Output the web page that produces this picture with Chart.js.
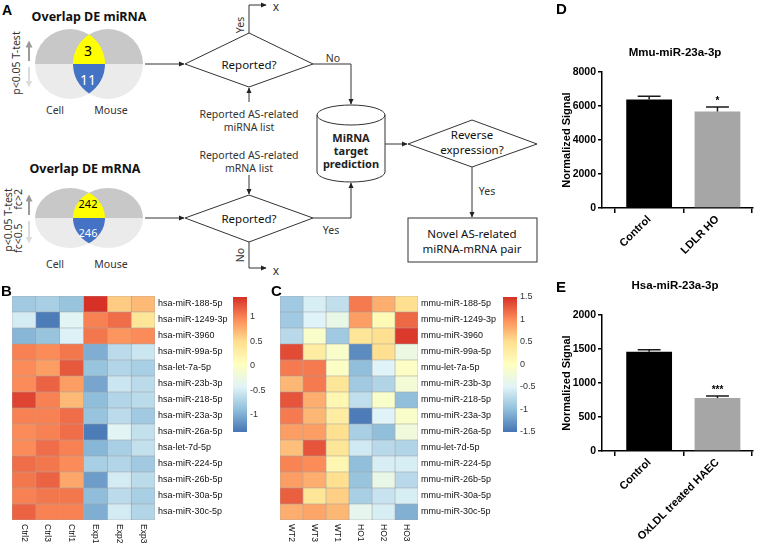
<!DOCTYPE html>
<html>
<head>
<meta charset="utf-8">
<script src="https://cdn.jsdelivr.net/npm/chart.js@4.4.1/dist/chart.umd.min.js"></script>
<style>
  body { margin: 0; background: #fff; }
  #page { position: relative; width: 766px; height: 545px; overflow: hidden; font-family: "Liberation Sans", Arial, sans-serif; }
  .abs { position: absolute; }
  .letter { position: absolute; font-weight: bold; font-size: 15px; line-height: 15px; }
  .title { position: absolute; width: 200px; text-align: center; font-weight: bold; font-size: 11.5px; line-height: 14px; }
  svg text { font-family: "Noto Sans", sans-serif; }
</style>
</head>
<body>
<div id="page">

<svg class="abs" style="left:0;top:0" width="545" height="280">
  <defs>
    <marker id="ah" viewBox="0 0 10 10" refX="9" refY="5" markerWidth="6" markerHeight="6" orient="auto">
      <path d="M0,0.5 L10,5 L0,9.5 z" fill="#222"/>
    </marker>
    <marker id="ahd" viewBox="0 0 10 10" refX="5" refY="5" markerWidth="3.5" markerHeight="3.5" orient="auto">
      <path d="M0,0 L10,5 L0,10 z" fill="#9a9a9a"/>
    </marker>
    <marker id="ahl" viewBox="0 0 10 10" refX="5" refY="5" markerWidth="3.5" markerHeight="3.5" orient="auto">
      <path d="M0,0 L10,5 L0,10 z" fill="#dcdcdc"/>
    </marker>
    <clipPath id="t1"><rect x="32" y="20" width="120" height="44"/></clipPath>
    <clipPath id="b1"><rect x="32" y="64" width="120" height="44"/></clipPath>
    <clipPath id="t2"><rect x="32" y="180" width="120" height="38"/></clipPath>
    <clipPath id="b2"><rect x="32" y="218" width="120" height="38"/></clipPath>
  </defs>

  <!-- Venn: miRNA -->
  <text x="89" y="16" font-size="12.5" font-weight="bold" text-anchor="middle" dominant-baseline="central" fill="#111">Overlap DE miRNA</text>
  <g clip-path="url(#t1)">
    <circle cx="70" cy="64" r="35" fill="#c8c8c8"/>
    <circle cx="108" cy="64" r="35" fill="#c8c8c8"/>
    <path d="M89,34.6 A35,35 0 0 1 89,93.4 A35,35 0 0 1 89,34.6 Z" fill="#ffff00"/>
  </g>
  <g clip-path="url(#b1)">
    <circle cx="70" cy="64" r="35" fill="#ebebeb"/>
    <circle cx="108" cy="64" r="35" fill="#ebebeb"/>
    <path d="M89,34.6 A35,35 0 0 1 89,93.4 A35,35 0 0 1 89,34.6 Z" fill="#4472c4"/>
  </g>
  <text x="88" y="50" font-size="14" text-anchor="middle" dominant-baseline="central" fill="#000">3</text>
  <text x="88" y="79" font-size="14" text-anchor="middle" dominant-baseline="central" fill="#fff">11</text>
  <line x1="29" y1="61" x2="29" y2="44" stroke="#9a9a9a" stroke-width="2" marker-end="url(#ahd)"/>
  <line x1="29" y1="67" x2="29" y2="84" stroke="#dcdcdc" stroke-width="2" marker-end="url(#ahl)"/>
  <text transform="translate(16,63) rotate(-90)" font-size="10.5" text-anchor="middle" dominant-baseline="central" fill="#333">p&lt;0.05 T-test</text>
  <text x="55" y="110" font-size="10.5" text-anchor="middle" dominant-baseline="central" fill="#333">Cell</text>
  <text x="111" y="110" font-size="10.5" text-anchor="middle" dominant-baseline="central" fill="#333">Mouse</text>

  <!-- Venn: mRNA -->
  <text x="85" y="168" font-size="12.5" font-weight="bold" text-anchor="middle" dominant-baseline="central" fill="#111">Overlap DE mRNA</text>
  <g clip-path="url(#t2)">
    <ellipse cx="70" cy="218" rx="35" ry="30" fill="#c8c8c8"/>
    <ellipse cx="108" cy="218" rx="35" ry="30" fill="#c8c8c8"/>
    <path d="M89,192.8 A35,30 0 0 1 89,243.2 A35,30 0 0 1 89,192.8 Z" fill="#ffff00"/>
  </g>
  <g clip-path="url(#b2)">
    <ellipse cx="70" cy="218" rx="35" ry="30" fill="#ebebeb"/>
    <ellipse cx="108" cy="218" rx="35" ry="30" fill="#ebebeb"/>
    <path d="M89,192.8 A35,30 0 0 1 89,243.2 A35,30 0 0 1 89,192.8 Z" fill="#4472c4"/>
  </g>
  <text x="88" y="203" font-size="11" text-anchor="middle" dominant-baseline="central" fill="#000">242</text>
  <text x="88" y="232" font-size="11" text-anchor="middle" dominant-baseline="central" fill="#fff">246</text>
  <line x1="29" y1="215" x2="29" y2="198" stroke="#9a9a9a" stroke-width="2" marker-end="url(#ahd)"/>
  <line x1="29" y1="221" x2="29" y2="240" stroke="#dcdcdc" stroke-width="2" marker-end="url(#ahl)"/>
  <text transform="translate(8,220) rotate(-90)" font-size="10.5" text-anchor="middle" dominant-baseline="central" fill="#333">p&lt;0.05 T-test</text>
  <text transform="translate(18,221) rotate(-90)" font-size="10.5" text-anchor="middle" dominant-baseline="central" fill="#333" xml:space="preserve">fc&lt;0.5     fc&gt;2</text>
  <text x="55" y="264" font-size="10.5" text-anchor="middle" dominant-baseline="central" fill="#333">Cell</text>
  <text x="111" y="264" font-size="10.5" text-anchor="middle" dominant-baseline="central" fill="#333">Mouse</text>

  <!-- flow chart -->
  <g stroke="#333" stroke-width="1" fill="none">
    <line x1="145" y1="64" x2="184" y2="64" marker-end="url(#ah)"/>
    <polygon points="185,64 249,33 313,64 249,87"/>
    <polyline points="249,33 249,5 266,5" marker-end="url(#ah)"/>
    <polyline points="313,64 351,64 351,104" marker-end="url(#ah)"/>
    <line x1="249" y1="102" x2="249" y2="88" marker-end="url(#ah)"/>

    <line x1="145" y1="218" x2="184" y2="218" marker-end="url(#ah)"/>
    <polygon points="185,218 249,195 313,218 249,242"/>
    <line x1="249" y1="175" x2="249" y2="194" marker-end="url(#ah)"/>
    <polyline points="249,242 249,268 266,268" marker-end="url(#ah)"/>
    <polyline points="313,218 351,218 351,183" marker-end="url(#ah)"/>

    <path d="M317,115 A34,10 0 0 1 385,115 L385,172 A34,10 0 0 1 317,172 Z"/>
    <path d="M317,115 A34,10 0 0 0 385,115"/>
    <line x1="385" y1="144" x2="407" y2="144" marker-end="url(#ah)"/>
    <polygon points="408,144 472,120 537,144 472,167"/>
    <line x1="472" y1="167" x2="472" y2="217" marker-end="url(#ah)"/>
    <rect x="408" y="218" width="129" height="44"/>
  </g>
  <g font-size="10.5" text-anchor="middle" dominant-baseline="central" fill="#333">
    <text x="276" y="6" font-size="12">x</text>
    <text transform="translate(240,25) rotate(-90)">Yes</text>
    <text x="333" y="58">No</text>
    <text x="249" y="114">Reported AS-related</text>
    <text x="249" y="127">miRNA list</text>
    <text x="249" y="155">Reported AS-related</text>
    <text x="249" y="168">mRNA list</text>
    <text transform="translate(240,255) rotate(-90)">No</text>
    <text x="276" y="270" font-size="12">x</text>
    <text x="331" y="230">Yes</text>
    <text x="487" y="191">Yes</text>
  </g>
  <g font-size="11.5" text-anchor="middle" dominant-baseline="central" fill="#111">
    <text x="249" y="64">Reported?</text>
    <text x="249" y="218">Reported?</text>
    <text x="472" y="134">Reverse</text>
    <text x="472" y="149">expression?</text>
    <text x="472" y="233">Novel AS-related</text>
    <text x="472" y="248">miRNA-mRNA pair</text>
  </g>
  <g font-size="11" font-weight="bold" text-anchor="middle" dominant-baseline="central" fill="#222">
    <text x="351" y="137">MiRNA</text>
    <text x="351" y="150">target</text>
    <text x="351" y="163">prediction</text>
  </g>
</svg>

<canvas id="heatB" class="abs" style="left:0;top:280px" width="230" height="265"></canvas>
<canvas id="barB" class="abs" style="left:225px;top:280px" width="45" height="170"></canvas>
<canvas id="heatC" class="abs" style="left:270px;top:280px" width="226" height="265"></canvas>
<canvas id="barC" class="abs" style="left:495px;top:280px" width="45" height="170"></canvas>
<canvas id="barD" class="abs" style="left:540px;top:0" width="226" height="270"></canvas>
<canvas id="barE" class="abs" style="left:540px;top:270px" width="226" height="275"></canvas>

<div class="letter" style="left:2px;top:3px;font-size:14px">A</div>
<div class="letter" style="left:1px;top:283px">B</div>
<div class="letter" style="left:271px;top:283px">C</div>
<div class="letter" style="left:556px;top:1px">D</div>
<div class="letter" style="left:556px;top:279px">E</div>
<div class="title" style="left:575px;top:45px">Mmu-miR-23a-3p</div>
<div class="title" style="left:575px;top:278px">Hsa-miR-23a-3p</div>
</div>

<script>
Chart.defaults.font.family = '"Liberation Sans", Arial, sans-serif';

// ---- heatmap B (human cells) ----
const colsB = ['Ctrl2', 'Ctrl3', 'Ctrl1', 'Exp1', 'Exp2', 'Exp3'];
const rowsB = ['hsa-miR-188-5p', 'hsa-miR-1249-3p', 'hsa-miR-3960', 'hsa-miR-99a-5p', 'hsa-let-7a-5p',
  'hsa-miR-23b-3p', 'hsa-miR-218-5p', 'hsa-miR-23a-3p', 'hsa-miR-26a-5p', 'hsa-let-7d-5p',
  'hsa-miR-224-5p', 'hsa-miR-26b-5p', 'hsa-miR-30a-5p', 'hsa-miR-30c-5p'];
const zB = [
  [-0.8, -0.75, -0.85, 1.4, 0.6, 0.7],
  [-0.5, -1.3, -0.4, 1.0, 1.1, 0.4],
  [-0.95, -0.85, -0.45, 1.05, 0.9, 0.95],
  [1.0, 0.95, 1.05, -1.0, -0.65, -0.55],
  [0.95, 0.85, 1.2, -0.85, -0.7, -0.75],
  [0.95, 1.15, 0.85, -1.05, -0.55, -0.65],
  [1.3, 1.0, 0.7, -0.9, -0.7, -0.65],
  [1.0, 1.0, 1.1, -0.85, -0.65, -0.8],
  [0.95, 1.0, 1.1, -1.3, -0.4, -0.6],
  [0.95, 1.1, 1.0, -0.95, -0.75, -0.6],
  [1.1, 1.05, 0.95, -0.75, -0.7, -0.8],
  [1.05, 1.15, 0.8, -1.1, -0.5, -0.65],
  [1.0, 1.05, 1.05, -0.9, -0.65, -0.75],
  [1.15, 1.0, 1.0, -1.0, -0.5, -0.7]
];
const rangeB = [-1.35, 1.4];
const ticksB = [-1, -0.5, 0, 0.5, 1];

// ---- heatmap C (mouse) ----
const colsC = ['WT2', 'WT3', 'WT1', 'HO1', 'HO2', 'HO3'];
const rowsC = ['mmu-miR-188-5p', 'mmu-miR-1249-3p', 'mmu-miR-3960', 'mmu-miR-99a-5p', 'mmu-let-7a-5p',
  'mmu-miR-23b-3p', 'mmu-miR-218-5p', 'mmu-miR-23a-3p', 'mmu-miR-26a-5p', 'mmu-let-7d-5p',
  'mmu-miR-224-5p', 'mmu-miR-26b-5p', 'mmu-miR-30a-5p', 'mmu-miR-30c-5p'];
const zC = [
  [-0.9, -0.55, -0.7, 1.1, 0.8, 0.5],
  [-0.9, -0.5, -0.35, 0.9, 0.1, 1.2],
  [-0.75, -0.1, -0.9, 0.4, 0.5, 1.45],
  [1.35, 0.3, -0.1, -1.35, 0.5, -0.3],
  [1.1, 1.1, -0.05, -1.0, -0.5, -0.05],
  [0.75, 1.1, 0.4, -0.9, -0.8, -0.2],
  [1.3, 0.8, 0.15, -0.7, -0.1, -1.0],
  [1.1, 0.75, 0.3, -1.45, -0.5, -0.1],
  [0.9, 0.9, 0.5, -0.85, -1.0, -0.25],
  [0.7, 1.3, 0.4, -0.6, -0.75, -0.8],
  [1.05, 1.0, 0.15, -1.0, -0.55, -0.55],
  [0.9, 0.8, 0.5, -0.95, -0.35, -0.75],
  [1.25, 0.4, 0.6, -0.85, -0.65, -0.55],
  [0.8, 0.85, 0.75, -0.4, -0.55, -1.1]
];
const rangeC = [-1.5, 1.5];
const ticksC = [-1.5, -1, -0.5, 0, 0.5, 1, 1.5];

// ---- bar panels D and E ----
const groupsD = ['Control', 'LDLR HO'];
const meanD = [6380, 5680];
const semD = [200, 260];
const starsD = ['', '*'];

const groupsE = ['Control', 'OxLDL treated HAEC'];
const meanE = [1460, 780];
const semE = [30, 28];
const starsE = ['', '***'];

// RdYlBu, as pheatmap uses it
const palette = ['#4575B4', '#91BFDB', '#E0F3F8', '#FFFFBF', '#FEE090', '#FC8D59', '#D73027'];

function hexToRgb(h) {
  return [1, 3, 5].map(i => parseInt(h.slice(i, i + 2), 16));
}

function heatColor(v, lo, hi) {
  const t = Math.min(1, Math.max(0, (v - lo) / (hi - lo))) * (palette.length - 1);
  const i = Math.min(palette.length - 2, Math.floor(t));
  const f = t - i;
  const a = hexToRgb(palette[i]), b = hexToRgb(palette[i + 1]);
  const c = a.map((x, k) => Math.round(x + (b[k] - x) * f));
  return `rgb(${c[0]},${c[1]},${c[2]})`;
}

// column names under the heatmap, read top to bottom
const colLabels = {
  id: 'colLabels',
  afterDraw(chart, args, opts) {
    const { ctx, chartArea, scales: { x } } = chart;
    ctx.save();
    ctx.font = '8.5px "Liberation Sans", Arial, sans-serif';
    ctx.fillStyle = '#111';
    ctx.textAlign = 'left';
    ctx.textBaseline = 'middle';
    opts.labels.forEach((l, j) => {
      ctx.save();
      ctx.translate(x.getPixelForValue(j + 0.5), chartArea.bottom + 4);
      ctx.rotate(Math.PI / 2);
      ctx.fillText(l, 0, 0);
      ctx.restore();
    });
    ctx.restore();
  }
};

function heatmap(id, rows, cols, z, range, padLeft, axisW) {
  new Chart(document.getElementById(id), {
    type: 'bar',
    data: {
      labels: rows,
      datasets: cols.map((c, j) => ({
        label: c,
        data: rows.map(() => 1),
        backgroundColor: z.map(r => heatColor(r[j], range[0], range[1])),
        borderColor: '#a3a3a3',
        borderWidth: 0.6,
        borderSkipped: false,
        categoryPercentage: 1,
        barPercentage: 1
      }))
    },
    options: {
      indexAxis: 'y',
      responsive: false,
      animation: false,
      layout: { padding: { left: padLeft, top: 16, right: 0, bottom: 0 } },
      plugins: { legend: { display: false }, tooltip: { enabled: false }, colLabels: { labels: cols } },
      scales: {
        x: {
          type: 'linear', stacked: true, min: 0, max: cols.length,
          ticks: { display: false }, grid: { display: false, drawTicks: false }, border: { display: false },
          afterFit: s => { s.height = 25; }
        },
        y: {
          stacked: true, position: 'right',
          grid: { display: false, drawTicks: false }, border: { display: false },
          ticks: { color: '#111', padding: 3, font: { size: 9 } },
          afterFit: s => { s.width = axisW; }
        }
      }
    },
    plugins: [colLabels]
  });
}

function colorbar(id, range, ticks) {
  const [lo, hi] = range;
  new Chart(document.getElementById(id), {
    type: 'bar',
    data: {
      labels: [''],
      datasets: [{
        data: [[lo, hi]],
        borderWidth: 0,
        categoryPercentage: 1,
        barPercentage: 1,
        backgroundColor: c => {
          const y = c.chart.scales.y;
          const y0 = y ? y.getPixelForValue(lo) : NaN;
          const y1 = y ? y.getPixelForValue(hi) : NaN;
          if (!isFinite(y0) || !isFinite(y1)) return palette[3];
          const g = c.chart.ctx.createLinearGradient(0, y0, 0, y1);
          palette.forEach((p, i) => g.addColorStop(i / (palette.length - 1), p));
          return g;
        }
      }]
    },
    options: {
      responsive: false,
      animation: false,
      layout: { padding: { left: 8, top: 17, right: 0, bottom: 18 } },
      plugins: { legend: { display: false }, tooltip: { enabled: false } },
      scales: {
        x: { display: false },
        y: {
          position: 'right', min: lo, max: hi,
          afterBuildTicks: s => { s.ticks = ticks.map(v => ({ value: v })); },
          grid: { display: false, drawTicks: false }, border: { display: false },
          ticks: { color: '#333', padding: 3, font: { size: 9 }, callback: v => String(v) },
          afterFit: s => { s.width = 23; }
        }
      }
    }
  });
}

// SEM whiskers and significance stars
const errorBars = {
  id: 'errorBars',
  afterDatasetsDraw(chart, args, opts) {
    const { ctx, scales: { y } } = chart;
    chart.getDatasetMeta(0).data.forEach((bar, i) => {
      const top = y.getPixelForValue(opts.means[i] + opts.errs[i]);
      const half = bar.width / 4;
      ctx.save();
      ctx.strokeStyle = '#1a1a1a';
      ctx.lineWidth = 1.5;
      ctx.beginPath();
      ctx.moveTo(bar.x, bar.y);
      ctx.lineTo(bar.x, top);
      ctx.moveTo(bar.x - half, top);
      ctx.lineTo(bar.x + half, top);
      ctx.stroke();
      if (opts.marks[i]) {
        ctx.fillStyle = '#000';
        ctx.font = 'bold 10px "Liberation Sans", Arial, sans-serif';
        ctx.textAlign = 'center';
        ctx.textBaseline = 'bottom';
        ctx.fillText(opts.marks[i], bar.x, top - 1);
      }
      ctx.restore();
    });
  }
};

// x is a linear axis so the two bars can sit off-centre, as in the GraphPad original
function barPanel(id, groups, means, errs, marks, yMax, step, padTop, axisH) {
  new Chart(document.getElementById(id), {
    type: 'bar',
    data: {
      datasets: [{
        data: means.map((m, i) => ({ x: i, y: m })),
        backgroundColor: ['#000000', '#a6a6a6'],
        borderWidth: 0,
        categoryPercentage: 1,
        barPercentage: 0.67
      }]
    },
    options: {
      responsive: false,
      animation: false,
      layout: { padding: { left: 20, top: padTop, right: 13, bottom: 0 } },
      plugins: { legend: { display: false }, tooltip: { enabled: false }, errorBars: { means, errs, marks } },
      scales: {
        x: {
          type: 'linear', min: -0.69, max: 1.52, offset: false,
          afterBuildTicks: s => { s.ticks = groups.map((g, i) => ({ value: i })); },
          grid: { drawOnChartArea: false, color: '#000', lineWidth: 1.5, tickLength: 5 },
          border: { color: '#000', width: 1.5 },
          ticks: { color: '#000', font: { size: 11, weight: 'bold' }, minRotation: 45, maxRotation: 45, padding: 0,
            callback: v => groups[v] },
          afterFit: s => { s.height = axisH; }
        },
        y: {
          min: 0, max: yMax,
          ticks: { stepSize: step, color: '#000', font: { size: 10.5, weight: 'bold' }, padding: 2, callback: v => String(v) },
          grid: { drawOnChartArea: false, color: '#000', lineWidth: 1.5, tickLength: 4 },
          border: { color: '#000', width: 1.5 },
          title: { display: true, text: 'Normalized Signal', color: '#000', font: { size: 11, weight: 'bold' }, padding: 0 },
          afterFit: s => { s.width = 42; }
        }
      }
    },
    plugins: [errorBars]
  });
}

heatmap('heatB', rowsB, colsB, zB, rangeB, 12, 75);
colorbar('barB', rangeB, ticksB);
heatmap('heatC', rowsC, colsC, zC, rangeC, 10, 78);
colorbar('barC', rangeC, ticksC);
barPanel('barD', groupsD, meanD, semD, starsD, 8000, 2000, 72, 62);
barPanel('barE', groupsE, meanE, semE, starsE, 2000, 500, 45, 94);
</script>
</body>
</html>
